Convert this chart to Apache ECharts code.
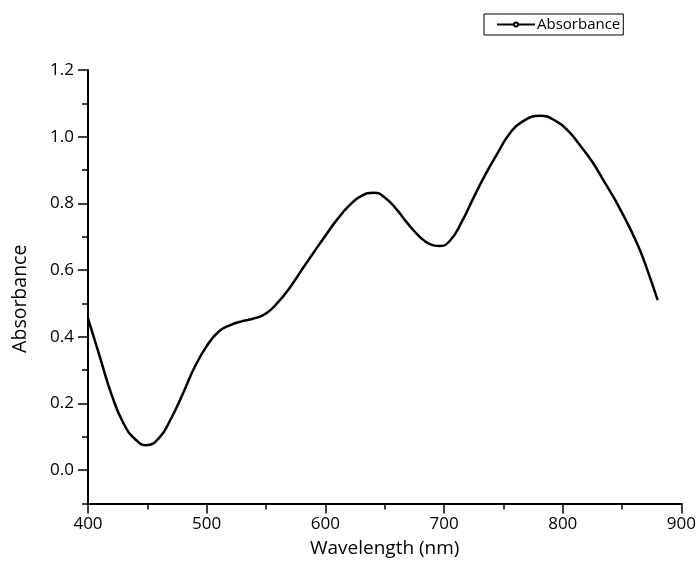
<!DOCTYPE html>
<html>
<head>
<meta charset="utf-8">
<script src="https://cdn.jsdelivr.net/npm/echarts@6/dist/echarts.min.js"></script>
<style>html,body{margin:0;padding:0;background:#fff}#c{width:699px;height:574px}</style>
</head>
<body>
<div id="c"></div>
<script>
const wavelengths = [400,410,420,430,440,449,460,470,480,490,500,510,520,530,540,550,560,570,580,590,600,610,620,630,641,650,660,670,680,688,696,705,715,725,735,745,755,765,781,795,805,815,825,835,845,855,865,872,880];
const absorbance = [0.455,0.34,0.225,0.14,0.092,0.075,0.097,0.155,0.23,0.31,0.372,0.415,0.435,0.447,0.455,0.47,0.503,0.547,0.60,0.652,0.703,0.752,0.793,0.822,0.832,0.818,0.782,0.737,0.698,0.678,0.672,0.688,0.745,0.818,0.888,0.95,1.008,1.043,1.063,1.045,1.016,0.972,0.924,0.865,0.805,0.737,0.66,0.593,0.51];
const yMajorTicks = [0,0.2,0.4,0.6,0.8,1.0,1.2];
const yMinorTicks = [-0.1,0.1,0.3,0.5,0.7,0.9,1.1];
const seriesName = 'Absorbance';
const xName = 'Wavelength (nm)';
const yName = 'Absorbance';

const font = '"Open Sans", "Noto Sans", sans-serif';
const chart = echarts.init(document.getElementById('c'), null, {renderer: 'canvas'});
chart.setOption({
  animation: false,
  backgroundColor: '#fff',
  grid: {left: 88, right: 17, top: 70, bottom: 70.5, containLabel: false},
  legend: {
    data: [seriesName],
    left: 484, top: 14,
    padding: [3, 3, 3, 12],
    itemGap: 0,
    borderColor: '#000', borderWidth: 1, borderRadius: 0,
    itemWidth: 38, itemHeight: 5,
    textStyle: {fontFamily: font, fontSize: 15, color: '#000', padding: [0, 0, 0, -3]}
  },
  xAxis: {
    type: 'value', min: 400, max: 900, interval: 100,
    name: xName, nameLocation: 'middle', nameGap: 36,
    nameTextStyle: {fontFamily: font, fontSize: 19, color: '#000'},
    axisLine: {show: true, onZero: false, lineStyle: {color: '#000', width: 2}},
    axisTick: {show: true, inside: false, length: 10, lineStyle: {color: '#000', width: 1.5}},
    minorTick: {show: true, splitNumber: 2, length: 6, lineStyle: {color: '#000', width: 1.5}},
    axisLabel: {fontFamily: font, fontSize: 17, color: '#000', margin: 12},
    splitLine: {show: false}
  },
  yAxis: [{
    type: 'value', min: -0.1, max: 1.2,
    name: yName, nameLocation: 'middle', nameGap: 58,
    nameTextStyle: {fontFamily: font, fontSize: 19.5, color: '#000', padding: [0, 24, 0, 0]},
    axisLine: {show: true, onZero: false, lineStyle: {color: '#000', width: 2}},
    axisTick: {show: true, inside: false, length: 10, customValues: yMajorTicks, lineStyle: {color: '#000', width: 1.5}},
    axisLabel: {fontFamily: font, fontSize: 17, color: '#000', margin: 14, customValues: yMajorTicks,
      formatter: v => v.toFixed(1)},
    splitLine: {show: false}
  }, {
    type: 'value', min: -0.1, max: 1.2, position: 'left',
    axisLine: {show: false, onZero: false},
    axisTick: {show: true, inside: false, length: 6, customValues: yMinorTicks, lineStyle: {color: '#000', width: 1.5}},
    axisLabel: {show: false},
    splitLine: {show: false}
  }],
  series: [{
    name: seriesName, type: 'line', yAxisIndex: 0,
    data: wavelengths.map((w, i) => [w, absorbance[i]]),
    smooth: 0.5, symbol: 'emptyCircle', symbolSize: 3, showSymbol: false,
    lineStyle: {color: '#000', width: 2.5},
    itemStyle: {color: '#000'}
  }]
});
</script>
</body>
</html>
